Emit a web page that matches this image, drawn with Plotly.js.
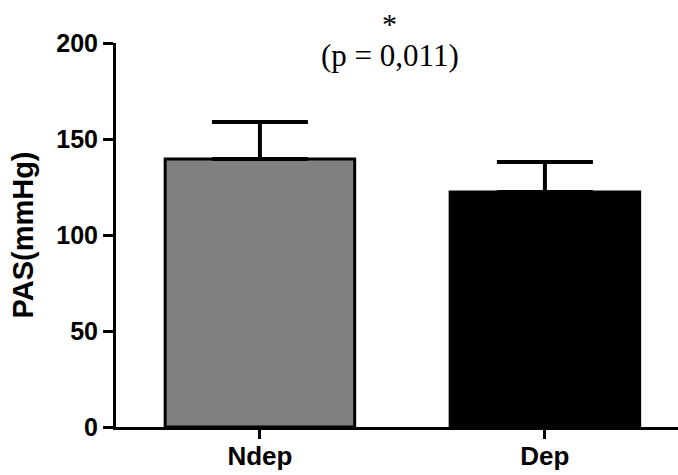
<!DOCTYPE html>
<html>
<head>
<meta charset="utf-8">
<script src="https://cdn.plot.ly/plotly-3.0.1.min.js"></script>
<style>
  html, body { margin: 0; padding: 0; background: #fff; }
  #chart { width: 678px; height: 475px; }
</style>
</head>
<body>
<div id="chart"></div>
<script>
// Systolic blood pressure (PAS) by group, mean with upward SD bar
const groups = ['Ndep', 'Dep'];
const meanPAS = [139.6, 122.4];
const sdPAS = [19.3, 15.6];
const barColors = ['#808080', '#000000'];
const yTicks = [0, 50, 100, 150, 200];
const significanceMark = '*';
const pValueText = '(p = 0,011)';

const sansBold = 'Liberation Sans, Arial, sans-serif';
const serif = 'Liberation Serif, Times New Roman, serif';

const trace = {
  type: 'bar',
  x: groups,
  y: meanPAS,
  width: 0.665,
  marker: {
    color: barColors,
    line: { color: '#000000', width: 3 }
  },
  error_y: {
    type: 'data',
    symmetric: false,
    array: sdPAS,
    arrayminus: sdPAS.map(() => 0),
    color: '#000000',
    thickness: 4,
    width: 48
  },
  hoverinfo: 'skip'
};

const layout = {
  width: 678,
  height: 475,
  margin: { l: 116, r: 0, t: 43, b: 48, pad: 0 },
  paper_bgcolor: '#ffffff',
  plot_bgcolor: '#ffffff',
  showlegend: false,
  font: { family: sansBold, color: '#000000' },
  xaxis: {
    type: 'category',
    range: [-0.505, 1.467],
    showline: true,
    linecolor: '#000000',
    linewidth: 3,
    showgrid: false,
    zeroline: false,
    ticks: 'outside',
    ticklen: 9,
    tickwidth: 3,
    tickcolor: '#000000',
    ticklabelstandoff: -5,
    tickfont: { family: sansBold, size: 26, color: '#000000', weight: 'bold' }
  },
  yaxis: {
    range: [0, 200],
    tickvals: yTicks,
    ticktext: yTicks.map(String),
    showline: true,
    linecolor: '#000000',
    linewidth: 3,
    showgrid: false,
    zeroline: false,
    ticks: 'outside',
    ticklen: 10,
    tickwidth: 3,
    tickcolor: '#000000',
    tickfont: { family: sansBold, size: 25, color: '#000000', weight: 'bold' },
    title: {
      text: 'PAS(mmHg)',
      standoff: 15,
      font: { family: sansBold, size: 29, color: '#000000', weight: 'bold' }
    }
  },
  annotations: [
    {
      xref: 'paper', yref: 'paper',
      x: 0.4875, y: 1.05,
      xanchor: 'center', yanchor: 'middle',
      text: significanceMark,
      showarrow: false,
      font: { family: serif, size: 30, color: '#000000' }
    },
    {
      xref: 'paper', yref: 'paper',
      x: 0.4875, y: 0.967,
      xanchor: 'center', yanchor: 'middle',
      text: pValueText,
      showarrow: false,
      font: { family: serif, size: 31, color: '#000000' }
    }
  ]
};

Plotly.newPlot('chart', [trace], layout, { displayModeBar: false, staticPlot: true });
</script>
</body>
</html>
